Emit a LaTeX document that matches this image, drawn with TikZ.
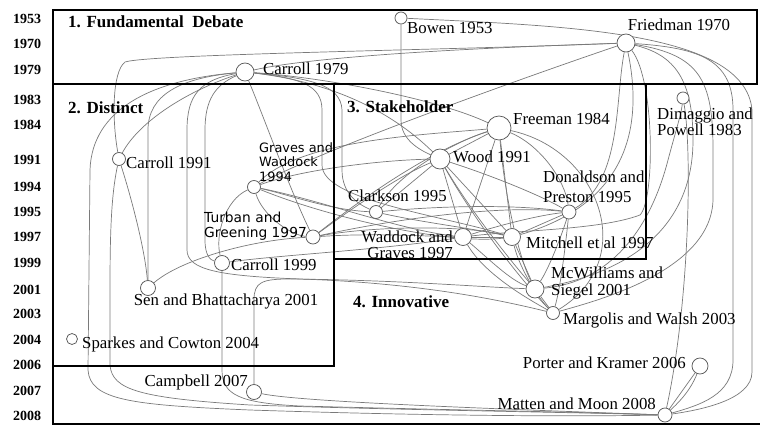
\documentclass[tikz,border=0pt]{standalone}
\usepackage{fontspec}
\setmainfont{Liberation Serif}
\newfontfamily\sansf{DejaVu Sans}
\pgfdeclarelayer{bg}
\pgfsetlayers{bg,main}
\begin{document}
\begin{tikzpicture}[x=1pt,y=-1pt,
 pub/.style={circle, draw=black!65, line width=0.75pt, fill=white, inner sep=0pt, minimum size=#1},
 lab/.style={font=\fontsize{16.8}{16.5}\selectfont, inner sep=0pt, align=left},
 slab/.style={font=\sansf\fontsize{12.9}{14.8}\selectfont, inner sep=0pt, align=left},
 reg/.style={font=\fontsize{17}{17}\selectfont\bfseries, inner sep=0pt, anchor=west},
 yr/.style={font=\fontsize{14}{14}\selectfont\bfseries, inner sep=0pt},
 edge/.style={draw=black!52, line width=0.7pt},
 frame/.style={draw=black, line width=1.5pt}]
\useasboundingbox (0,0) rectangle (760,425);

% years
\foreach \yy/\pos [count=\i] in {1953/19,1970/44,1979/70,1983/100,1984/125,1991/160,1994/187,1995/212,1997/237,1999/263,2001/290,2003/314,2004/340,2006/365,2007/391,2008/416}
  \node[yr] (yr\i) at (27,\pos) {\yy};

% frames
\draw[frame] (53,10) rectangle (757,84);
\draw[frame] (53,84) rectangle (334,366);
\draw[frame] (334,84) rectangle (646,259);
\draw[frame] (53,84) -- (53,424) -- (760,424);

\node[reg] (r1) at (68,22) {1. Fundamental\ \ Debate};
\node[reg] (r2) at (68,108) {2. Distinct};
\node[reg] (r3) at (347,107) {3. Stakeholder};
\node[reg] (r4) at (353,302) {4. Innovative};

% publications
\node[pub=12pt] (Bo) at (401,18) {};
\node[pub=18pt] (F) at (626,43) {};
\node[pub=18pt] (C79) at (245,72) {};
\node[pub=24pt] (Fr) at (499,128) {};
\node[pub=12pt] (Di) at (683,98) {};
\node[pub=20pt] (Wo) at (440,159) {};
\node[pub=13pt] (C91) at (119,159) {};
\node[pub=13pt] (GW) at (254,187) {};
\node[pub=13pt] (Cl) at (376,212) {};
\node[pub=14pt] (Do) at (569,212) {};
\node[pub=14pt] (TG) at (313,237) {};
\node[pub=17pt] (WG) at (463,237) {};
\node[pub=17pt] (Mi) at (512,237) {};
\node[pub=15pt] (C99) at (222,263) {};
\node[pub=15pt] (Se) at (148,288) {};
\node[pub=18pt] (Mc) at (535,289) {};
\node[pub=13pt] (Ma) at (553,313) {};
\node[pub=11pt] (Sp) at (72,339) {};
\node[pub=16pt] (Po) at (700,366) {};
\node[pub=15pt] (Ca) at (254,392) {};
\node[pub=14pt] (MM) at (665,415) {};

% labels
\node[lab,anchor=west] (lBo) at (407,28) {Bowen 1953};
\node[lab] (lF) at (679,25) {Friedman 1970};
\node[lab,anchor=west] (lC79) at (263,69) {Carroll 1979};
\node[lab,anchor=west] (lFr) at (513,119) {Freeman 1984};
\node[lab,anchor=west] (lDi) at (657,122) {Dimaggio and\\Powell 1983};
\node[lab,anchor=west] (lWo) at (453,157) {Wood 1991};
\node[lab,anchor=west] (lC91) at (126,163) {Carroll 1991};
\node[slab,anchor=west] (lGW) at (259,162) {Graves and\\Waddock\\1994};
\node[lab,anchor=west] (lCl) at (348,196) {Clarkson 1995};
\node[lab,anchor=west,font=\fontsize{16.8}{19.5}\selectfont] (lDo) at (543,187) {Donaldson and\\Preston 1995};
\node[slab,anchor=west,font=\sansf\fontsize{13.8}{15.5}\selectfont] (lTG) at (204,226) {Turban and\\Greening 1997};
\node[lab,anchor=east,align=right] (lWG) at (453,245) {Waddock and\\Graves 1997};
\node[lab,anchor=west] (lMi) at (526,243) {Mitchell et al 1997};
\node[lab,anchor=west] (lC99) at (231,265) {Carroll 1999};
\node[lab] (lSe) at (226,301) {Sen and Bhattacharya 2001};
\node[lab,anchor=west] (lMc) at (551,283) {McWilliams and\\Siegel 2001};
\node[lab,anchor=west] (lMa) at (563,320) {Margolis and Walsh 2003};
\node[lab,anchor=west] (lSp) at (82,344) {Sparkes and Cowton 2004};
\node[lab,anchor=east] (lPo) at (686,363) {Porter and Kramer 2006};
\node[lab,anchor=east] (lCa) at (248,382) {Campbell 2007};
\node[lab,anchor=east] (lMM) at (656,404) {Matten and Moon 2008};

\begin{pgfonlayer}{bg}
\fill[white] (0,0) rectangle (760,425);
% Friedman / Bowen
\draw[edge] (Bo) .. controls (560,26) and (745,30) .. (752,110) -- (752,372) .. controls (752,400) and (700,410) .. (MM);
\draw[edge] (Bo) -- (401,120) .. controls (401,140) and (420,150) .. (Wo);
\draw[edge] (F) .. controls (500,47) and (320,55) .. (C79);
\draw[edge] (F) .. controls (450,50) and (150,54) .. (125,62) .. controls (112,72) and (112,120) .. (C91);
\draw[edge] (F) .. controls (540,72) and (320,150) .. (GW);
\draw[edge] (F) .. controls (615,100) and (622,180) .. (Do);
\draw[edge] (F) .. controls (640,110) and (640,200) .. (Mi);
\draw[edge] (F) .. controls (655,80) and (655,200) .. (640,215) .. controls (600,230) and (520,230) .. (WG);
\draw[edge] (F) .. controls (675,55) and (693,80) .. (693,140) .. controls (693,220) and (640,270) .. (Mc);
\draw[edge] (F) .. controls (700,55) and (713,80) .. (713,150) -- (713,200) .. controls (711,270) and (600,300) .. (Ma);
\draw[edge] (F) .. controls (700,48) and (733,60) .. (733,110) -- (733,360) .. controls (733,395) and (700,405) .. (MM);
% Carroll 1979
\draw[edge] (C79) .. controls (330,82) and (390,110) .. (Wo);
\draw[edge] (C79) .. controls (330,78) and (440,100) .. (Fr);
\draw[edge] (C79) .. controls (310,78) and (341,85) .. (342,110) -- (342,170) .. controls (342,195) and (360,205) .. (Cl);
\draw[edge] (C79) .. controls (300,78) and (322,85) .. (322,110) -- (322,165) .. controls (322,200) and (440,215) .. (Mi);
\draw[edge] (C79) .. controls (265,120) and (290,190) .. (TG);
\draw[edge] (C79) .. controls (190,90) and (140,120) .. (C91);
\draw[edge] (C79) .. controls (180,78) and (148,95) .. (148,130) -- (Se);
\draw[edge] (C79) .. controls (215,85) and (205,100) .. (205,130) -- (205,240) .. controls (205,255) and (210,260) .. (C99);
\draw[edge] (C79) .. controls (200,80) and (187,95) .. (187,130) -- (187,250) .. controls (187,270) and (220,276) .. (300,279) .. controls (420,283) and (500,300) .. (Ma);
\draw[edge] (C79) .. controls (150,80) and (92,110) .. (90,170) -- (88,370) .. controls (90,400) and (130,405) .. (250,410) .. controls (400,415) and (550,417) .. (MM);
% left side
\draw[edge] (C91) .. controls (132,200) and (145,250) .. (Se);
\draw[edge] (C91) .. controls (110,200) and (110,250) .. (110,300) -- (110,365) .. controls (112,390) and (140,398) .. (250,405) .. controls (400,410) and (560,412) .. (MM);
\draw[edge] (C99) -- (222,370) .. controls (222,395) and (240,403) .. (300,406) .. controls (450,410) and (580,412) .. (MM);
\draw[edge] (Ca) .. controls (300,402) and (500,409) .. (MM);
\draw[edge] (Ca) -- (254,300) .. controls (254,282) and (262,279) .. (290,279) .. controls (400,280) and (480,287) .. (Mc);
\draw[edge] (TG) .. controls (250,240) and (180,260) .. (Se);
% Graves & Waddock 1994
\draw[edge] (GW) .. controls (262,215) and (290,235) .. (TG);
\draw[edge] (GW) .. controls (320,200) and (400,230) .. (WG);
\draw[edge] (GW) .. controls (330,218) and (450,245) .. (Mi);
\draw[edge] (GW) .. controls (225,200) and (215,235) .. (C99);
\draw[edge] (Fr) .. controls (420,135) and (300,140) .. (GW);
% Turban & Greening
\draw[edge] (TG) .. controls (370,233) and (420,236) .. (WG);
\draw[edge] (TG) .. controls (380,225) and (470,226) .. (Mi);
\draw[edge] (TG) .. controls (400,218) and (500,205) .. (Do);
\draw[edge] (TG) .. controls (350,210) and (400,175) .. (Wo);
\draw[edge] (TG) .. controls (360,200) and (430,150) .. (Fr);
% Carroll 1999
\draw[edge] (C99) .. controls (280,255) and (380,250) .. (WG);
% Clarkson
\draw[edge] (Cl) .. controls (420,222) and (470,228) .. (Mi);
\draw[edge] (Cl) -- (Wo);
\draw[edge] (Cl) .. controls (400,170) and (460,140) .. (Fr);
\draw[edge] (Cl) .. controls (450,205) and (520,205) .. (Do);
\draw[edge] (Cl) .. controls (330,210) and (290,195) .. (GW);
% Wood
\draw[edge] (Wo) -- (Fr);
\draw[edge] (Wo) -- (WG);
\draw[edge] (Wo) -- (Mi);
\draw[edge] (Wo) .. controls (470,210) and (510,260) .. (Mc);
\draw[edge] (Wo) .. controls (480,230) and (530,290) .. (Ma);
\draw[edge] (Wo) .. controls (490,175) and (540,195) .. (Do);
\draw[edge] (Wo) .. controls (380,160) and (300,170) .. (GW);
% Freeman
\draw[edge] (Fr) -- (WG);
\draw[edge] (Fr) -- (Mi);
\draw[edge] (Fr) .. controls (505,200) and (520,260) .. (Mc);
\draw[edge] (Fr) .. controls (540,145) and (565,180) .. (Do);
\draw[edge] (Fr) .. controls (600,150) and (640,260) .. (Ma);
% Waddock & Graves, Mitchell, Donaldson
\draw[edge] (WG) -- (Mi);
\draw[edge] (WG) .. controls (500,225) and (540,215) .. (Do);
\draw[edge] (WG) .. controls (490,260) and (510,280) .. (Mc);
\draw[edge] (WG) .. controls (485,275) and (530,300) .. (Ma);
\draw[edge] (Mi) -- (Mc);
\draw[edge] (Mi) .. controls (520,270) and (540,300) .. (Ma);
\draw[edge] (Mi) -- (Do);
\draw[edge] (Do) .. controls (565,250) and (560,290) .. (Ma);
\draw[edge] (Do) .. controls (560,240) and (548,270) .. (Mc);
\draw[edge] (Mc) -- (Ma);
\draw[edge] (Mc) .. controls (610,282) and (650,230) .. (668,160) .. controls (676,130) and (681,115) .. (Di);
\draw[edge] (Di) .. controls (692,150) and (690,300) .. (MM);
\draw[edge] (Po) -- (MM);
\draw[edge] (Po) .. controls (690,392) and (676,405) .. (MM);
\end{pgfonlayer}
\end{tikzpicture}
\end{document}
